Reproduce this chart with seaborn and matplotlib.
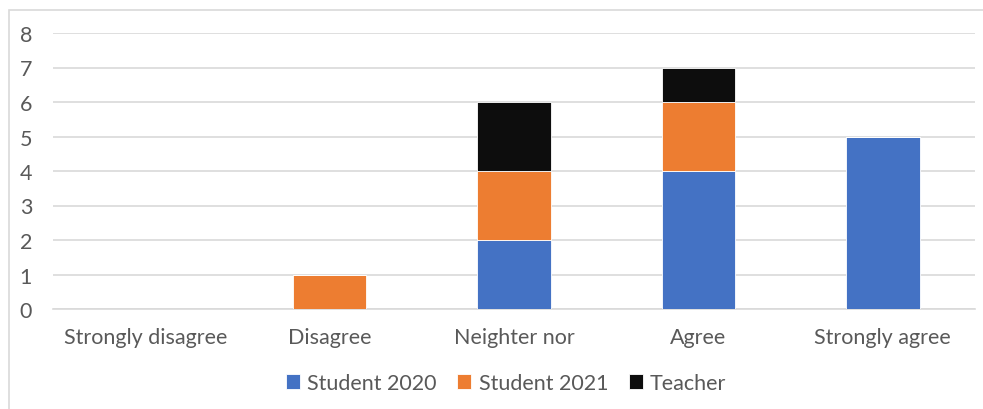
import matplotlib
matplotlib.use("Agg")
import matplotlib.pyplot as plt
import seaborn as sns
import numpy as np
import pandas as pd
from matplotlib.patches import Rectangle

categories = ["Strongly disagree", "Disagree", "Neighter nor", "Agree", "Strongly agree"]
student_2020 = [0, 0, 2, 4, 5]
student_2021 = [0, 1, 2, 2, 0]
teacher = [0, 0, 2, 1, 0]
series_names = ["Student 2020", "Student 2021", "Teacher"]
series_colors = ["#4472C4", "#ED7D31", "#0D0D0D"]
y_ticks = [0, 1, 2, 3, 4, 5, 6, 7, 8]

sns.set_theme(style="white")
plt.rcParams["font.family"] = ["Lato", "DejaVu Sans"]
text_color = "#595959"

fig = plt.figure(figsize=(9.83, 4.10), dpi=100)
ax = fig.add_axes([53 / 983, 1 - 310 / 410, 922 / 983, 276 / 410])

# outer chart border
fig.patches.append(Rectangle((9 / 983, -0.05), 1.2, 1 - 11 / 410 + 0.05,
                             transform=fig.transFigure, fill=False,
                             edgecolor="#D9D9D9", linewidth=1.2, zorder=0))

df = pd.DataFrame({"category": categories,
                   series_names[0]: student_2020,
                   series_names[1]: student_2021,
                   series_names[2]: teacher})

bottom = np.zeros(len(categories))
for name, color in zip(series_names, series_colors):
    vals = df[name].to_numpy(dtype=float)
    sns.barplot(data=df, x="category", y=name, color=color, width=0.4,
                bottom=bottom, ax=ax, edgecolor="white", linewidth=0.6,
                label=name, zorder=3, saturation=1)
    bottom = bottom + vals

ax.set_ylim(0, 8)
ax.set_xlim(-0.5, len(categories) - 0.5)
ax.set_yticks(y_ticks)
ax.set_yticklabels([str(t) for t in y_ticks])
ax.yaxis.grid(True, color="#D9D9D9", linewidth=1.2, zorder=0)
ax.set_axisbelow(True)
for s in ["top", "right", "left"]:
    ax.spines[s].set_visible(False)
ax.spines["bottom"].set_color("#D9D9D9")
ax.spines["bottom"].set_linewidth(1.2)
ax.set_xlabel("")
ax.set_ylabel("")
ax.tick_params(axis="both", length=0, colors=text_color, labelsize=15.5)
ax.tick_params(axis="x", pad=13)
ax.tick_params(axis="y", pad=24)
for lbl in ax.get_yticklabels():
    lbl.set_horizontalalignment("left")

handles, labels = ax.get_legend_handles_labels()
leg = fig.legend(handles, labels, loc="center", bbox_to_anchor=(506 / 983, 1 - 384 / 410),
                 ncol=3, frameon=False, fontsize=15.5, handlelength=0.65, handleheight=0.65,
                 handletextpad=0.35, columnspacing=0.95)
for t in leg.get_texts():
    t.set_color(text_color)
if ax.get_legend() is not None:
    ax.get_legend().remove()

fig.savefig("out.png", dpi=100)
